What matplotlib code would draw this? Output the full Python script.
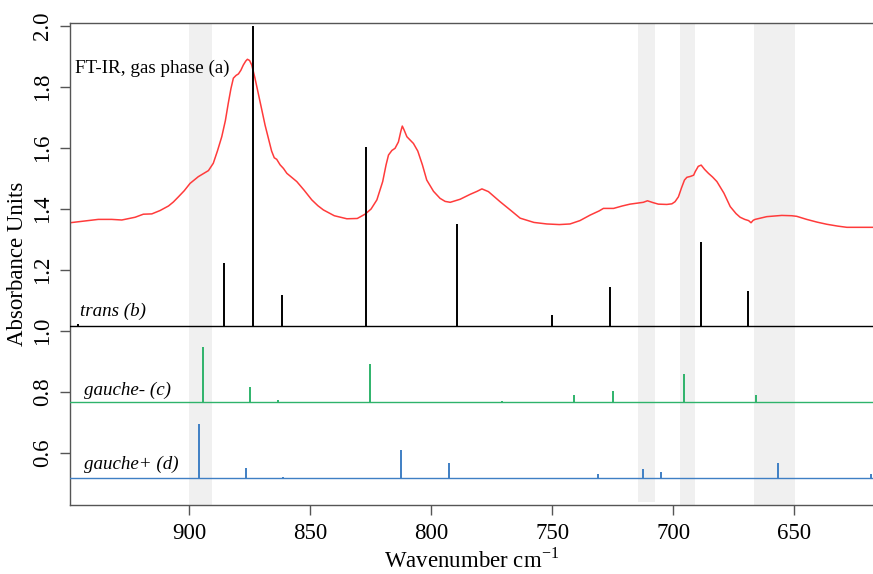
import numpy as np
import matplotlib.pyplot as plt

plt.rcParams['font.family'] = ['Liberation Serif', 'DejaVu Serif']

# FT-IR gas phase trace (wavenumber, absorbance)
ftir_wn = [949.2, 943.0, 937.5, 932.0, 927.8, 922.3, 918.9, 915.4, 912.0, 908.5,
           906.5, 904.4, 902.0, 899.6, 896.2, 892.0, 890.0, 888.3, 886.5, 885.0,
           883.8, 882.7, 881.7, 880.6, 879.6, 878.6, 877.6, 876.6, 875.9, 875.0,
           874.1, 872.8, 871.4, 870.0, 868.6, 867.0, 865.9, 864.8, 863.8, 862.4,
           861.0, 859.6, 857.5, 855.5, 852.5, 849.3, 846.8, 844.5, 840.0, 834.8,
           830.5, 827.3, 824.8, 822.4, 820.0, 818.6, 817.6, 816.2, 814.9, 813.5,
           812.5, 811.9, 811.2, 810.0, 807.3, 805.5, 803.6, 801.8, 799.0, 796.3,
           794.2, 792.1, 788.0, 783.9, 781.0, 779.0, 776.3, 773.8, 771.5, 767.0,
           763.2, 757.5, 752.2, 747.0, 742.6, 738.5, 734.3, 730.5, 728.8, 724.6,
           721.0, 717.8, 712.3, 710.6, 708.3, 706.1, 702.6, 700.5, 699.2, 697.8,
           696.5, 695.3, 694.3, 692.8, 691.5, 690.9, 689.6, 688.4, 687.0, 685.4,
           683.7, 681.9, 679.0, 676.4, 674.0, 672.3, 670.4, 668.8, 667.8, 666.9,
           666.1, 661.3, 655.1, 651.0, 648.9, 644.8, 640.5, 636.5, 632.0, 628.2,
           622.0, 617.4]
ftir_abs = [1.355, 1.361, 1.366, 1.366, 1.364, 1.373, 1.383, 1.384, 1.395, 1.410,
            1.423, 1.440, 1.460, 1.484, 1.506, 1.526, 1.550, 1.590, 1.637, 1.690,
            1.747, 1.795, 1.829, 1.838, 1.843, 1.855, 1.872, 1.885, 1.891, 1.887,
            1.872, 1.830, 1.779, 1.727, 1.675, 1.625, 1.590, 1.568, 1.563, 1.545,
            1.533, 1.517, 1.503, 1.490, 1.462, 1.430, 1.411, 1.397, 1.378, 1.368,
            1.369, 1.383, 1.400, 1.430, 1.490, 1.545, 1.577, 1.592, 1.599, 1.620,
            1.655, 1.672, 1.660, 1.637, 1.615, 1.590, 1.545, 1.495, 1.458, 1.435,
            1.425, 1.422, 1.432, 1.448, 1.458, 1.466, 1.457, 1.440, 1.424, 1.395,
            1.370, 1.356, 1.351, 1.349, 1.351, 1.362, 1.380, 1.394, 1.402, 1.402,
            1.410, 1.416, 1.422, 1.427, 1.421, 1.416, 1.415, 1.417, 1.424, 1.440,
            1.470, 1.495, 1.504, 1.507, 1.511, 1.522, 1.540, 1.544, 1.530, 1.517,
            1.505, 1.490, 1.452, 1.408, 1.385, 1.373, 1.366, 1.362, 1.355, 1.363,
            1.366, 1.375, 1.379, 1.378, 1.376, 1.366, 1.357, 1.350, 1.344, 1.340,
            1.340, 1.340]

# calculated conformer spectra: band positions and peak tops, drawn on offset baselines
trans_base = 1.017
trans_wn = [945.7, 885.5, 873.6, 861.7, 826.7, 789.1, 750.1, 726.0, 688.6, 669.0]
trans_top = [1.022, 1.223, 2.000, 1.118, 1.604, 1.350, 1.052, 1.144, 1.292, 1.131]

gminus_base = 0.768
gminus_wn = [894.2, 874.9, 863.1, 825.1, 770.8, 740.9, 724.9, 695.6, 665.8]
gminus_top = [0.947, 0.815, 0.773, 0.891, 0.772, 0.789, 0.804, 0.859, 0.790]

gplus_base = 0.519
gplus_wn = [895.9, 876.3, 861.3, 812.4, 792.4, 730.9, 712.5, 705.2, 656.7, 618.3]
gplus_top = [0.695, 0.550, 0.522, 0.610, 0.568, 0.530, 0.548, 0.539, 0.568, 0.530]

# shaded regions
band_lo = [890.6, 707.3, 691.0, 649.7]
band_hi = [900.0, 714.5, 697.0, 666.5]
band_bottom = [0.43, 0.44, 0.43, 0.43]

fig = plt.figure(figsize=(8.73, 5.74), dpi=100)
ax = fig.add_axes([0.0802, 0.1202, 0.9198, 0.8403])
ymax = 2.011

for lo, hi, b in zip(band_lo, band_hi, band_bottom):
    ax.fill_between([hi, lo], b, ymax, color='#f0f0f0', lw=0, zorder=0)

ax.plot(ftir_wn, ftir_abs, color='#ff3b3b', lw=1.1, zorder=2)

for wn, top, base, col in [(trans_wn, trans_top, trans_base, 'black'),
                           (gminus_wn, gminus_top, gminus_base, '#2fb36b'),
                           (gplus_wn, gplus_top, gplus_base, '#3f7fc4')]:
    ax.axhline(base, color=col, lw=1.0, zorder=3)
    ax.vlines(wn, base, top, color=col, lw=1.4, zorder=3)

ax.text(947.1, 1.862, 'FT-IR, gas phase (a)', fontsize=13.7, va='center', ha='left')
ax.text(945.0, 1.064, 'trans (b)', fontsize=13.7, style='italic', va='center', ha='left')
ax.text(943.4, 0.807, 'gauche- (c)', fontsize=13.7, style='italic', va='center', ha='left')
ax.text(943.4, 0.564, 'gauche+ (d)', fontsize=13.7, style='italic', va='center', ha='left')

ax.set_xlim(949.2, 617.4)
ax.set_ylim(0.4295, ymax)
ax.set_xticks([900, 850, 800, 750, 700, 650])
ax.set_yticks([0.6, 0.8, 1.0, 1.2, 1.4, 1.6, 1.8, 2.0])
ax.set_yticklabels(['0.6', '0.8', '1.0', '1.2', '1.4', '1.6', '1.8', '2.0'],
                   rotation=90, va='center')
ax.tick_params(axis='both', labelsize=16.5, length=7, width=1.0, color='#555555', pad=6)
ax.tick_params(axis='y', pad=5)

for s in ['left', 'bottom', 'top']:
    ax.spines[s].set_color('#555555')
    ax.spines[s].set_linewidth(1.0)
ax.spines['right'].set_visible(False)

ax.set_xlabel('Wavenumber cm$^{\\mathregular{-1}}$', fontsize=16.5, labelpad=3)
ax.set_ylabel('Absorbance Units', fontsize=16.5, labelpad=3)

fig.savefig('out.png', dpi=100)
